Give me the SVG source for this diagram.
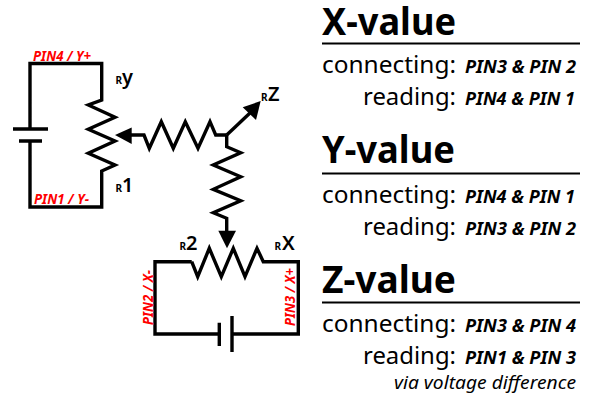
<svg xmlns="http://www.w3.org/2000/svg" width="591" height="397" viewBox="0 0 591 397">
<style>
text{font-family:"Noto Sans","Open Sans",sans-serif;fill:#000}
.w{fill:none;stroke:#000;stroke-width:3.400;stroke-linejoin:miter}
.h{fill:#000;stroke:none}
.pin{font-size:14px;font-weight:700;font-style:italic;fill:#f00}
.s{font-size:10px;font-weight:700}
.b{font-size:20px;font-weight:600}
.t{font-size:38px;font-weight:700}
.c{font-size:24px;font-weight:400}
.p{font-size:17px;font-weight:700;font-style:italic}
.rule{stroke:#000;stroke-width:2.200}
</style>
<rect width="591" height="397" fill="#fff"/>
<g id="connectors">
<path class="w" d="M30 129V63.500H101.700V100L88.300 105L115 117.300L88.300 129.300L115 141L88.300 153.300L115 165L101.700 171V207H30V141"/>
<path class="w" d="M13 129H48M19 141H42"/>
<path class="w" d="M131 135H144L149.300 148.300L161.300 121.700L173.300 148.300L185.300 121.700L198 148.300L210 121.700L215.700 135H226.700"/>
<path class="h" d="M115 135L131.700 127.500V144Z"/>
<path class="w" d="M226.700 135L250 113"/>
<path class="h" d="M260.700 101L242.700 107.300L256 120Z"/>
<path class="w" d="M226.700 135V146.700L240.700 152.700L213.300 165L240.700 176.700L213.300 189.300L240.700 200.700L213.300 212.700L226.700 218.300V232"/>
<path class="h" d="M227 248.300L218.300 230.700H236Z"/>
<path class="w" d="M191.700 261.700H155V334H219M232 334H298.300V261.700H263.300L257 248.300L245 276.700L233.300 248.300L221.300 276.700L209.300 248.300L197.700 276.700L191.700 261.700"/>
<path class="w" d="M219.300 322.700V346M232 316V352"/>
</g>
<g id="left-circuit-labels">
<text class="pin" x="33" y="61" textLength="58" lengthAdjust="spacingAndGlyphs">PIN4 / Y+</text>
<text class="pin" x="34" y="204" textLength="55" lengthAdjust="spacingAndGlyphs">PIN1 / Y-</text>
<text class="s" x="115.500" y="84">R</text><text class="b" x="122" y="84">y</text>
<text class="s" x="115.500" y="192">R</text><text class="b" x="122" y="192">1</text>
</g>
<g id="z-label"><text class="s" x="261" y="101">R</text><text class="b" x="268" y="101">Z</text></g>
<g id="bottom-circuit-labels">
<text class="s" x="179.500" y="250">R</text><text class="b" x="186" y="250">2</text>
<text class="s" x="274.500" y="250">R</text><text class="b" x="282" y="250">X</text>
<text class="pin" transform="translate(153 325) rotate(-90)" textLength="55" lengthAdjust="spacingAndGlyphs">PIN2 / X-</text>
<text class="pin" transform="translate(295 326) rotate(-90)" textLength="58" lengthAdjust="spacingAndGlyphs">PIN3 / X+</text>
</g>
<g id="x-value">
<text class="t" x="322" y="35" textLength="134" lengthAdjust="spacingAndGlyphs">X-value</text>
<line class="rule" x1="322" y1="43.500" x2="580" y2="43.500"/>
<text class="c" x="322" y="73" textLength="134" lengthAdjust="spacingAndGlyphs">connecting:</text>
<text class="p" x="465" y="73" textLength="111" lengthAdjust="spacingAndGlyphs">PIN3 &amp; PIN 2</text>
<text class="c" x="363" y="105" textLength="93" lengthAdjust="spacingAndGlyphs">reading:</text>
<text class="p" x="465" y="105" textLength="110" lengthAdjust="spacingAndGlyphs">PIN4 &amp; PIN 1</text>
</g>
<g id="y-value">
<text class="t" x="322" y="163" textLength="133" lengthAdjust="spacingAndGlyphs">Y-value</text>
<line class="rule" x1="322" y1="173.500" x2="580" y2="173.500"/>
<text class="c" x="322" y="203" textLength="134" lengthAdjust="spacingAndGlyphs">connecting:</text>
<text class="p" x="465" y="203" textLength="110" lengthAdjust="spacingAndGlyphs">PIN4 &amp; PIN 1</text>
<text class="c" x="363" y="235" textLength="93" lengthAdjust="spacingAndGlyphs">reading:</text>
<text class="p" x="465" y="235" textLength="111" lengthAdjust="spacingAndGlyphs">PIN3 &amp; PIN 2</text>
</g>
<g id="z-value">
<text class="t" x="322" y="293" textLength="134" lengthAdjust="spacingAndGlyphs">Z-value</text>
<line class="rule" x1="322" y1="302.500" x2="580" y2="302.500"/>
<text class="c" x="322" y="332" textLength="134" lengthAdjust="spacingAndGlyphs">connecting:</text>
<text class="p" x="465" y="332" textLength="111" lengthAdjust="spacingAndGlyphs">PIN3 &amp; PIN 4</text>
<text class="c" x="363" y="364" textLength="93" lengthAdjust="spacingAndGlyphs">reading:</text>
<text class="p" x="465" y="364" textLength="111" lengthAdjust="spacingAndGlyphs">PIN1 &amp; PIN 3</text>
<text x="394" y="389" font-size="18" font-weight="400" font-style="italic" textLength="182" lengthAdjust="spacingAndGlyphs">via voltage difference</text>
</g>
</svg>
